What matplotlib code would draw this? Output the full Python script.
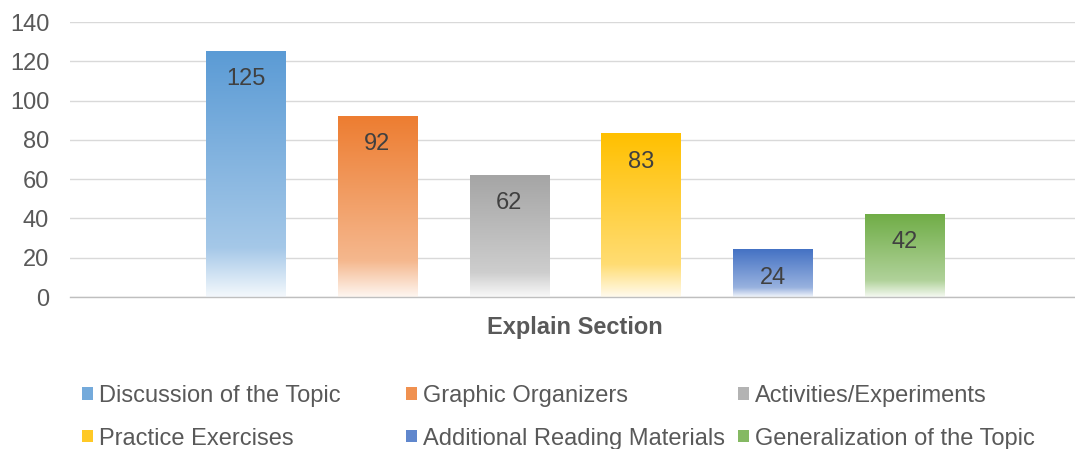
import matplotlib.pyplot as plt
import numpy as np
from matplotlib.colors import LinearSegmentedColormap, to_rgb
from matplotlib.patches import Patch

plt.rcParams['font.family'] = ['Liberation Sans', 'DejaVu Sans']

series = ['Discussion of the Topic', 'Graphic Organizers', 'Activities/Experiments',
          'Practice Exercises', 'Additional Reading Materials', 'Generalization of the Topic']
values = [125, 92, 62, 83, 24, 42]
colors = ['#5B9BD5', '#ED7D31', '#A5A5A5', '#FFC000', '#4472C4', '#70AD47']
category = 'Explain Section'


def tint(c, t):
    r = np.array(to_rgb(c))
    return tuple(r + (1 - r) * t)


def gradient_cmap(c):
    # bottom almost white, lighter band near the bottom, full colour at top
    return LinearSegmentedColormap.from_list(
        'g', [(0.0, tint(c, 0.93)), (0.2, tint(c, 0.45)), (1.0, tint(c, 0.0))])


fig = plt.figure(figsize=(10.75, 4.49), dpi=100)
ax = fig.add_axes([0.0651, 0.3385, 0.9349, 0.6125])

x = np.arange(len(values))
width = 0.6
grad = np.linspace(0, 1, 256).reshape(-1, 1)

for xi, v, c in zip(x, values, colors):
    ax.imshow(grad, cmap=gradient_cmap(c), origin='lower', aspect='auto',
              extent=[xi - width / 2, xi + width / 2, 0, v], zorder=2, interpolation='bilinear')
    ax.annotate(str(v), (xi, v), xytext=(0, -12), textcoords='offset points',
                ha='center', va='top', fontsize=17, color='#404040', zorder=3)

ax.set_xlim(-1.333, 6.295)
ax.set_ylim(0, 140)
ax.set_yticks(range(0, 141, 20))
ax.set_xticks([2.5])
ax.set_xticklabels([category], fontsize=17, fontweight='bold', color='#595959')
ax.tick_params(axis='y', labelsize=17, labelcolor='#595959', length=0, pad=15)
ax.tick_params(axis='x', length=0, pad=14)
ax.grid(axis='y', color='#D9D9D9', linewidth=1, zorder=0)
ax.set_axisbelow(True)
for s in ['top', 'right', 'left']:
    ax.spines[s].set_visible(False)
ax.spines['bottom'].set_color('#BFBFBF')
ax.spines['bottom'].set_linewidth(1)

# legend: three equal-width columns like the original
col_x = [0.0763, 0.3777, 0.6865]
for k in range(3):
    idx = [k, k + 3]
    handles = [Patch(facecolor=tint(colors[i], 0.15), edgecolor='none') for i in idx]
    fig.legend(handles, [series[i] for i in idx], loc='upper left',
               bbox_to_anchor=(col_x[k], 0.1425), frameon=False, fontsize=17,
               labelcolor='#595959', handlelength=0.45, handleheight=0.45,
               handletextpad=0.25, labelspacing=0.87, borderaxespad=0, borderpad=0)

fig.savefig('out.png', dpi=100)
